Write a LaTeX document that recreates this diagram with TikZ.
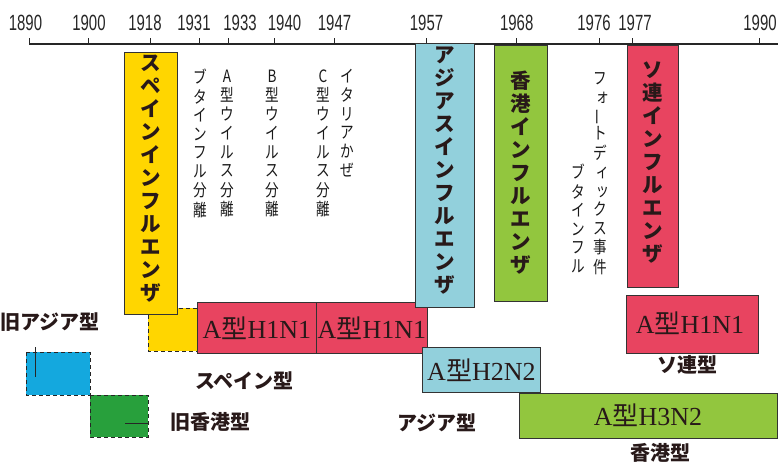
\documentclass[tikz,border=0pt]{standalone}
\usepackage{fontspec}
\setmainfont{Liberation Serif}
\newfontfamily\jp{Noto Sans CJK JP}
\newfontfamily\numf{Liberation Sans}
\definecolor{cyel}{RGB}{255,214,0}
\definecolor{clblue}{RGB}{146,208,220}
\definecolor{chk}{RGB}{146,198,62}
\definecolor{cred}{RGB}{232,68,96}
\definecolor{coblue}{RGB}{20,168,222}
\definecolor{cogreen}{RGB}{40,160,60}
\definecolor{ctxt}{RGB}{40,25,25}
\newcommand{\vthintext}[1]{\scalebox{0.8}[1]{\begin{tabular}{@{}c@{}}#1\end{tabular}}}
\newcommand{\hserif}[1]{A{\jp 型}#1}
\begin{document}
\begin{tikzpicture}[x=1pt,y=-1pt,
  box/.style={draw=black!80, line width=0.8pt, rectangle, inner sep=0pt, anchor=north west},
  vbold/.style={font=\jp\bfseries\fontsize{20.5}{23}\selectfont, align=center, anchor=north, inner sep=0pt, text=ctxt},
  vthin/.style={font=\jp\fontsize{17}{18.4}\selectfont, anchor=north, inner sep=0pt, text=black!90},
  lbl/.style={font=\jp\bfseries\fontsize{20}{24}\selectfont, inner sep=0pt, text=ctxt},
  ser/.style={font=\fontsize{26}{30}\selectfont, inner sep=0pt, text=ctxt},
  yr/.style={font=\numf\fontsize{22}{26}\selectfont, inner sep=0pt, text=black!85},
  dbox/.style={draw=black!85, line width=0.8pt, dash pattern=on 4pt off 3pt}]
\useasboundingbox (0,0) rectangle (778,465);
% axis
\coordinate (axL) at (29,44);
\coordinate (axR) at (778,44);
\draw[line width=1.2pt, black!85] (axL) -- (axR);
\foreach \tx/\lx/\yy in {29/25.5/1890, 88/89/1900, 150/145/1918, 199/194/1931, 228/240/1933, 274/284.5/1940, 334/334.5/1947, 426/426.5/1957, 516/516.7/1968, 599/594/1976, 632/635/1977, 759/760/1990}{
  \coordinate (t\yy) at (\tx,44);
  \draw[line width=1pt, black!85] (t\yy) -- ++(0,-6);
  \node[yr] (y\yy) at (\lx,23) {\scalebox{0.68}[1]{\yy}};
}
% bottom bars (drawn first, under tall boxes)
\fill[cyel] (148,308) rectangle (197,351);
\draw[dbox] (197,308) -- (148,308) -- (148,351) -- (197,351);
\node[box, fill=cred, minimum width=119pt, minimum height=51pt] (h1a) at (197,302) {};
\node[ser] (h1at) at (h1a.center) {\hserif{H1N1}};
\node[box, fill=cred, minimum width=111pt, minimum height=51pt] (h1b) at (316,302) {};
\node[ser] (h1bt) at (h1b.center) {\hserif{H1N1}};
% tall boxes
\node[box, fill=cyel, minimum width=53pt, minimum height=262pt] (spain) at (124,52) {};
\node[vbold] (spaint) at (150.5,55) {ス\\ペ\\イ\\ン\\イ\\ン\\フ\\ル\\エ\\ン\\ザ};
\node[box, fill=clblue, minimum width=59pt, minimum height=264pt] (asia) at (415,43) {};
\node[vbold] (asiat) at (444.5,47) {ア\\ジ\\ア\\ス\\イ\\ン\\フ\\ル\\エ\\ン\\ザ};
\node[box, fill=chk, minimum width=53pt, minimum height=256pt] (hk) at (494,45) {};
\node[vbold] (hkt) at (520.5,71) {香\\港\\イ\\ン\\フ\\ル\\エ\\ン\\ザ};
\node[box, fill=cred, minimum width=51pt, minimum height=242pt] (sov) at (627,45) {};
\node[vbold] (sovt) at (652.5,62) {ソ\\連\\イ\\ン\\フ\\ル\\エ\\ン\\ザ};
% thin vertical labels
\node[vthin] (v1) at (200,69) {\vthintext{ブ\\タ\\イ\\ン\\フ\\ル\\分\\離}};
\node[vthin] (v2) at (227,69) {\vthintext{A\\型\\ウ\\イ\\ル\\ス\\分\\離}};
\node[vthin] (v3) at (272,69) {\vthintext{B\\型\\ウ\\イ\\ル\\ス\\分\\離}};
\node[vthin] (v4) at (323,69) {\vthintext{C\\型\\ウ\\イ\\ル\\ス\\分\\離}};
\node[vthin] (v5) at (347,69) {\vthintext{イ\\タ\\リ\\ア\\か\\ぜ}};
\node[vthin] (v6) at (600,71) {\vthintext{フ\\\hspace*{6pt}ォ\\\rotatebox[origin=c]{90}{ー}\\ト\\デ\\\hspace*{6pt}ィ\\\hspace*{6pt}ッ\\ク\\ス\\事\\件}};
\node[vthin] (v7) at (578,164) {\vthintext{ブ\\タ\\イ\\ン\\フ\\ル}};
% H2N2, H3N2, Soviet H1N1
\node[box, fill=clblue, minimum width=118pt, minimum height=45pt] (h2) at (422,347) {};
\node[ser] (h2t) at (h2.center) {\hserif{H2N2}};
\node[box, fill=chk, minimum width=258pt, minimum height=45pt] (h3) at (519,393) {};
\node[ser] (h3t) at (648,415) {\hserif{H3N2}};
\node[box, fill=cred, minimum width=132pt, minimum height=58pt] (h1c) at (626,295) {};
\node[ser] (h1ct) at (690,323) {\hserif{H1N1}};
% old types
\fill[coblue] (26,352) rectangle (90,395);
\draw[dbox] (26,352) rectangle (90,395);
\coordinate (ba) at (35,347);
\coordinate (bb) at (35,377);
\draw[line width=0.8pt, black!85] (ba) -- (bb);
\fill[cogreen] (90,395) rectangle (148,437);
\draw[dbox] (90,395) rectangle (148,437);
\coordinate (ga) at (125,423);
\coordinate (gb) at (148,423);
\draw[line width=1pt, black!85] (ga) -- (gb);
% labels
\node[lbl, anchor=west] (oasia) at (0,322) {旧アジア型};
\node[lbl, anchor=west] (ohk) at (170,422) {旧香港型};
\node[lbl, anchor=west] (spt) at (195,381) {スペイン型};
\node[lbl, anchor=west] (ast) at (397,423) {アジア型};
\node[lbl] (hkl) at (660,453) {香港型};
\node[lbl] (sovl) at (687,365) {ソ連型};
\end{tikzpicture}
\end{document}
